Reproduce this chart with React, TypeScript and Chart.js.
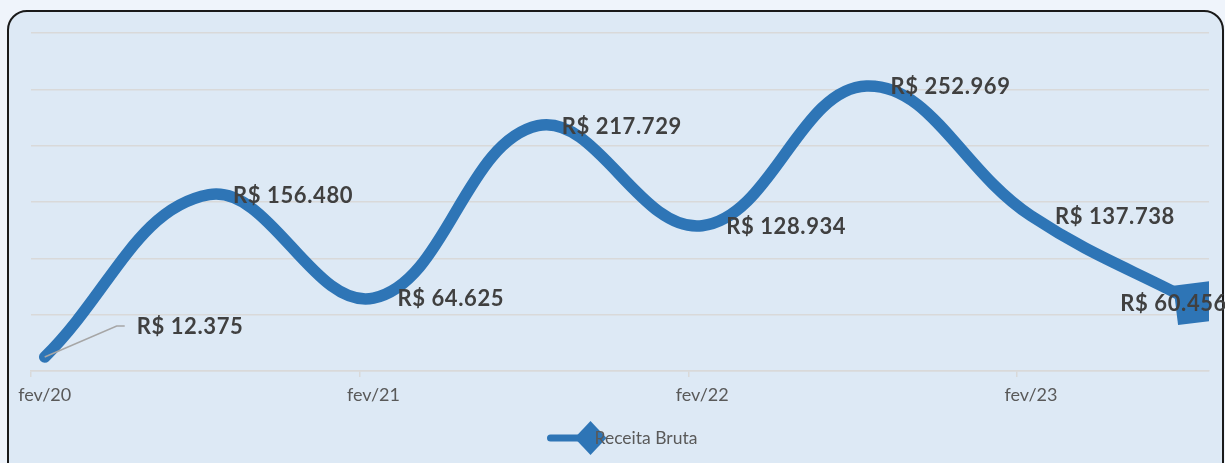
import React, { useEffect, useRef } from "react";
import { Chart, registerables } from "chart.js";

Chart.register(...registerables);

// ---------- data ----------
const periods = ["fev/20", "ago/20", "fev/21", "ago/21", "fev/22", "ago/22", "fev/23", "ago/23"];
const monthsSinceStart = [0, 6, 12, 18, 24, 30, 36, 42];
const receitaBruta = [12375, 156480, 64625, 217729, 128934, 252969, 137738, 60456];
const tickMonths = [0, 12, 24, 36];
const tickLabels = ["fev/20", "fev/21", "fev/22", "fev/23"];
const seriesName = "Receita Bruta";
const yMin = 0;
const yMax = 300000;
const yStep = 50000;
const xMin = 0;
const xMax = 43;

// ---------- styles ----------
const BLUE = "#2E75B6";
const GRID = "#D9D9D9";
const LABEL_FONT = "Lato, 'Open Sans', sans-serif";
// pixel offsets of each data label relative to its point
const labelShift = [
  { dx: 92, dy: -30, leader: true },
  { dx: 24, dy: 1 },
  { dx: 24, dy: 1 },
  { dx: 24, dy: 1 },
  { dx: 24, dy: 1 },
  { dx: 24, dy: 1 },
  { dx: 24, dy: 1 },
  { dx: -75, dy: 1 },
];

function fmt(v: number): string {
  return "R$ " + String(v).replace(/\B(?=(\d{3})+(?!\d))/g, ".");
}

const labelPlugin = {
  id: "valueLabels",
  afterDatasetsDraw(chart: any) {
    const meta = chart.getDatasetMeta(0);
    const ctx = chart.ctx as CanvasRenderingContext2D;
    ctx.save();
    meta.data.forEach((pt: any, i: number) => {
      const s = labelShift[i];
      const x = pt.x + s.dx;
      const y = pt.y + s.dy;
      if (s.leader) {
        ctx.beginPath();
        ctx.strokeStyle = "#A6A6A6";
        ctx.lineWidth = 1.5;
        ctx.moveTo(pt.x, pt.y);
        ctx.lineTo(x - 20, y - 1);
        ctx.lineTo(x - 12, y - 1);
        ctx.stroke();
      }
      ctx.font = `bold 22px ${LABEL_FONT}`;
      (ctx as any).letterSpacing = "0.6px";
      ctx.fillStyle = "#404040";
      ctx.textBaseline = "middle";
      ctx.textAlign = "left";
      ctx.fillText(fmt(receitaBruta[i]), x, y);
    });
    ctx.restore();
  },
};

const legendPlugin = {
  id: "customLegend",
  afterDraw(chart: any) {
    const ctx = chart.ctx as CanvasRenderingContext2D;
    const cx = chart.width / 2 - 22;
    const cy = 438;
    ctx.save();
    ctx.strokeStyle = BLUE;
    ctx.lineWidth = 7;
    ctx.lineCap = "round";
    ctx.beginPath();
    ctx.moveTo(cx - 40, cy);
    ctx.lineTo(cx, cy);
    ctx.stroke();
    ctx.fillStyle = BLUE;
    ctx.beginPath();
    ctx.moveTo(cx, cy - 17);
    ctx.lineTo(cx + 16, cy);
    ctx.lineTo(cx, cy + 17);
    ctx.lineTo(cx - 16, cy);
    ctx.closePath();
    ctx.fill();
    ctx.font = `17.5px ${LABEL_FONT}`;
    ctx.fillStyle = "#595959";
    ctx.textBaseline = "middle";
    ctx.textAlign = "left";
    ctx.fillText(seriesName, cx + 4, cy);
    ctx.restore();
  },
};

export default function App() {
  const ref = useRef<HTMLCanvasElement | null>(null);

  useEffect(() => {
    document.body.style.margin = "0";
    if (!ref.current) return;
    const last = receitaBruta.length - 1;
    const chart = new Chart(ref.current, {
      type: "line",
      data: {
        labels: periods,
        datasets: [
          {
            label: seriesName,
            data: receitaBruta.map((v, i) => ({ x: monthsSinceStart[i] + 0.5, y: v })),
            borderColor: BLUE,
            backgroundColor: BLUE,
            borderWidth: 11.5,
            borderCapStyle: "round",
            borderJoinStyle: "round",
            tension: 0.4,
            clip: 0,
            pointStyle: "rect",
            pointRotation: -7,
            pointRadius: (c: any) => (c.dataIndex === last ? 28 : 0),
            pointHoverRadius: (c: any) => (c.dataIndex === last ? 28 : 0),
            pointBorderWidth: 0,
            pointBackgroundColor: BLUE,
          } as any,
        ],
      },
      options: {
        responsive: false,
        animation: false,
        devicePixelRatio: 1,
        layout: { autoPadding: false, padding: { left: 31, top: 33, right: 16, bottom: 0 } },
        plugins: { legend: { display: false }, tooltip: { enabled: false } },
        scales: {
          x: {
            type: "linear",
            min: xMin,
            max: xMax,
            afterBuildTicks: (s: any) => {
              s.ticks = tickMonths.map((v) => ({ value: v }));
            },
            afterFit: (s: any) => {
              s.height = 92;
              s.paddingLeft = 0;
              s.paddingRight = 0;
            },
            ticks: {
              autoSkip: false,
              maxRotation: 0,
              minRotation: 0,
              labelOffset: 13.7,
              padding: 7,
              color: "#595959",
              font: { family: LABEL_FONT, size: 18 },
              callback: (_v: any, i: number) => tickLabels[i],
            },
            grid: {
              display: true,
              drawOnChartArea: false,
              drawTicks: true,
              tickLength: 6,
              color: GRID,
              lineWidth: 1.5,
            },
            border: { display: true, color: GRID, width: 1.5 },
          },
          y: {
            min: yMin,
            max: yMax,
            afterFit: (s: any) => {
              s.width = 0;
              s.paddingTop = 0;
              s.paddingBottom = 0;
            },
            ticks: { display: false, stepSize: yStep },
            grid: { color: GRID, lineWidth: 1.5, drawTicks: false },
            border: { display: false },
          },
        },
      } as any,
      plugins: [labelPlugin, legendPlugin],
    });
    return () => chart.destroy();
  }, []);

  return (
    <div
      style={{
        position: "fixed",
        left: 0,
        top: 0,
        width: 1225,
        height: 463,
        background: "#EFF4FB",
        overflow: "hidden",
      }}
    >
      <div
        style={{
          position: "absolute",
          left: 7,
          top: 10,
          width: 1217,
          height: 475,
          boxSizing: "border-box",
          border: "2px solid #1a1a1a",
          borderRadius: 20,
          background: "#DDE9F5",
        }}
      />
      <canvas
        ref={ref}
        width={1225}
        height={463}
        style={{ position: "absolute", left: 0, top: 0, width: 1225, height: 463 }}
      />
    </div>
  );
}
